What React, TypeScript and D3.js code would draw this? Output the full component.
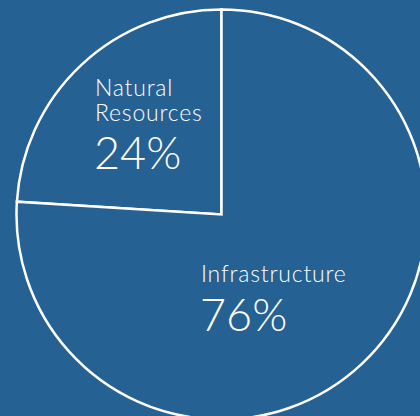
import React from "react";
import * as d3 from "d3";

const categories = ["Natural Resources", "Infrastructure"];
const values = [24, 76];
const labelLines = [["Natural", "Resources"], ["Infrastructure"]];
const pctLabels = ["24%", "76%"];

const W = 420;
const H = 416;
const BG = "#256192";

export default function App() {
  const cx = 221.5;
  const cy = 214.5;
  const r = 205;
  const pie = d3
    .pie<number>()
    .sort(null)
    .startAngle(0)
    .endAngle(-2 * Math.PI)
    .value((d) => d);
  const arcs = pie(values);
  const arc = d3.arc<d3.PieArcDatum<number>>().innerRadius(0).outerRadius(r);

  const labelPos = [
    { x: 95, y: 96, lh: 25, pctY: 169 },
    { x: 201, y: 282, lh: 25, pctY: 331 },
  ];

  return (
    <div style={{ position: "fixed", left: 0, top: 0, width: W, height: H }}>
      <svg width={W} height={H} style={{ display: "block" }}>
        <rect width={W} height={H} fill={BG} />
        <g transform={`translate(${cx},${cy})`}>
          {arcs.map((a, i) => (
            <path
              key={categories[i]}
              d={arc(a) || ""}
              fill={BG}
              stroke="#fff"
              strokeWidth={2.5}
              strokeLinejoin="miter"
            />
          ))}
        </g>
        {categories.map((c, i) => (
          <g key={c} fill="#fff" fontFamily="Lato, 'Open Sans', sans-serif" fontWeight={300}>
            <text x={labelPos[i].x} y={labelPos[i].y} fontSize={23} letterSpacing={0.8}>
              {labelLines[i].map((ln, j) => (
                <tspan key={j} x={labelPos[i].x} dy={j === 0 ? 0 : labelPos[i].lh}>
                  {ln}
                </tspan>
              ))}
            </text>
            <text x={labelPos[i].x - 1} y={labelPos[i].pctY} fontSize={45}>
              {pctLabels[i]}
            </text>
          </g>
        ))}
      </svg>
    </div>
  );
}
